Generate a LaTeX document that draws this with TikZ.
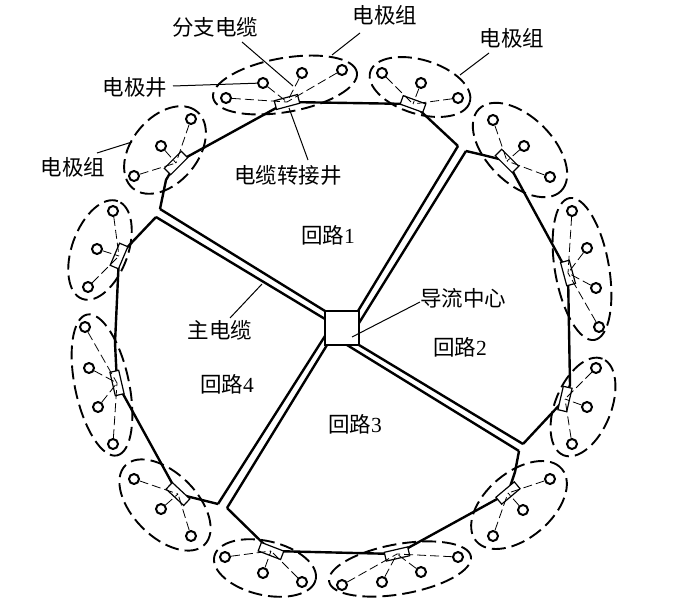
\documentclass[tikz,border=0pt]{standalone}
\usepackage{fontspec}
\setmainfont{Liberation Serif}
\newfontfamily\cjk{Noto Sans CJK SC}
\usetikzlibrary{shapes.geometric}
\pgfdeclarelayer{cables}
\pgfsetlayers{cables,main}
\tikzset{
  cable/.style={line width=2.4pt,line join=miter},
  grp/.style={draw,ellipse,dash pattern=on 14pt off 6pt,line width=1.9pt,inner sep=0pt},
  well/.style={draw,circle,line width=2pt,minimum size=10pt,inner sep=0pt,fill=white},
  joint/.style={draw,rectangle,line width=1.2pt,minimum width=24pt,minimum height=9pt,inner sep=0pt,fill=white},
  branch/.style={dash pattern=on 9pt off 4pt,line width=.8pt},
  leader/.style={line width=1pt},
  lab/.style={font=\fontsize{21.5}{22}\selectfont\cjk,inner sep=0pt},
  hubbox/.style={draw,rectangle,line width=2.4pt,minimum size=34pt,inner sep=0pt,fill=white}
}
\newcommand{\dg}[1]{{\rmfamily #1}}
\begin{document}
\begin{tikzpicture}[x=1pt,y=-1pt]
\useasboundingbox (0,0) rectangle (682,607);
% electrode group outlines
\node[grp,minimum width=100pt,minimum height=66pt,rotate=50] (gA) at (165,150) {};
\node[grp,minimum width=146pt,minimum height=54pt,rotate=10] (gB) at (285,85) {};
\node[grp,minimum width=104pt,minimum height=54pt,rotate=-17] (gC) at (420,87) {};
\node[grp,minimum width=116pt,minimum height=66pt,rotate=-45] (gD) at (520,150) {};
\node[grp,minimum width=144pt,minimum height=54pt,rotate=-80] (gE) at (582,269) {};
\node[grp,minimum width=104pt,minimum height=56pt,rotate=68] (gF) at (583,407) {};
\node[grp,minimum width=112pt,minimum height=66pt,rotate=40] (gG) at (519,505) {};
\node[grp,minimum width=144pt,minimum height=50pt,rotate=10] (gH) at (400,569) {};
\node[grp,minimum width=104pt,minimum height=54pt,rotate=-13] (gI) at (265,568) {};
\node[grp,minimum width=112pt,minimum height=64pt,rotate=-45] (gJ) at (165,505) {};
\node[grp,minimum width=144pt,minimum height=54pt,rotate=-78] (gK) at (102,385) {};
\node[grp,minimum width=104pt,minimum height=56pt,rotate=70] (gL) at (100,250) {};
% cable corners
\node[hubbox] (hub) at (342,328) {};
\coordinate (c1a) at (160,209);
\coordinate (c1b) at (458,146);
\coordinate (c2a) at (466,151);
\coordinate (c2b) at (523,444);
\coordinate (c3a) at (519,451);
\coordinate (c3b) at (227,508);
\coordinate (c4a) at (218,504);
\coordinate (c4b) at (156,217);
\coordinate (k1) at (166,180);
\coordinate (k2) at (483,155);
\coordinate (k3) at (570,385);
\coordinate (k4) at (515,472);
\coordinate (k5) at (115,343);
\coordinate (hNEa) at (358,311);
\coordinate (hNEb) at (359,323);
\coordinate (hNWa) at (325,311);
\coordinate (hNWb) at (325,319);
\coordinate (hSWa) at (325,336);
\coordinate (hSWb) at (327,345);
\coordinate (hSEa) at (359,345);
\coordinate (hSEb) at (347,345);
% wells
\node[well] (a1) at (191,119) {}; \node[well] (a2) at (161,146) {}; \node[well] (a3) at (134,176) {};
\node[well] (b1) at (226,98) {}; \node[well] (b2) at (263,83) {}; \node[well] (b3) at (302,73) {}; \node[well] (b4) at (342,70) {};
\node[well] (c1) at (382,73) {}; \node[well] (c2) at (421,83) {}; \node[well] (c3) at (458,98) {};
\node[well] (d1) at (493,120) {}; \node[well] (d2) at (524,146) {}; \node[well] (d3) at (550,177) {};
\node[well] (e1) at (572,211) {}; \node[well] (e2) at (587,248) {}; \node[well] (e3) at (596,288) {}; \node[well] (e4) at (599,327) {};
\node[well] (f1) at (596,368) {}; \node[well] (f2) at (587,407) {}; \node[well] (f3) at (572,444) {};
\node[well] (g1) at (550,479) {}; \node[well] (g2) at (523,510) {}; \node[well] (g3) at (493,536) {};
\node[well] (h1) at (458,557) {}; \node[well] (h2) at (421,572) {}; \node[well] (h3) at (382,582) {}; \node[well] (h4) at (342,585) {};
\node[well] (i1) at (225,557) {}; \node[well] (i2) at (263,573) {}; \node[well] (i3) at (302,582) {};
\node[well] (j1) at (134,479) {}; \node[well] (j2) at (161,509) {}; \node[well] (j3) at (191,536) {};
\node[well] (k6) at (85,327) {}; \node[well] (k7) at (89,368) {}; \node[well] (k8) at (98,407) {}; \node[well] (k9) at (113,444) {};
\node[well] (l1) at (113,211) {}; \node[well] (l2) at (97,249) {}; \node[well] (l3) at (88,287) {};
% joints
\node[joint,rotate=45] (jA) at (176,163) {};
\node[joint,rotate=15] (jB) at (287,102) {};
\node[joint,rotate=-20] (jC) at (413,104) {};
\node[joint,rotate=-45] (jD) at (507,161) {};
\node[joint,rotate=-75] (jE) at (568,273) {};
\node[joint,rotate=77] (jF) at (565,399) {};
\node[joint,rotate=40] (jG) at (508,493) {};
\node[joint,rotate=13] (jH) at (397,554) {};
\node[joint,rotate=-21] (jI) at (271,551) {};
\node[joint,rotate=-43] (jJ) at (178,494) {};
\node[joint,rotate=-77] (jK) at (117,383) {};
\node[joint,rotate=67] (jL) at (119,256) {};
\begin{pgfonlayer}{cables}
\draw[cable] (hNEa) -- (c1b) (hNEb) -- (c2a);
\draw[cable] (hNWa) -- (c1a) (hNWb) -- (c4b);
\draw[cable] (hSWa) -- (c4a) (hSWb) -- (c3b);
\draw[cable] (hSEa) -- (c2b) (hSEb) -- (c3a);
\draw[cable] (c1a) -- (k1) -- (jA.center) -- (jB.center) -- (jC.center) -- (c1b);
\draw[cable] (c2a) -- (k2) -- (jD.center) -- (jE.center) -- (k3) -- (jF.center) -- (c2b);
\draw[cable] (c3a) -- (k4) -- (jG.center) -- (jH.center) -- (jI.center) -- (c3b);
\draw[cable] (c4a) -- (jJ.center) -- (jK.center) -- (k5) -- (jL.center) -- (c4b);
\end{pgfonlayer}
% branches
\draw[branch] (a1) -- (jA.center) (a2) -- (jA.center) (a3) -- (jA.center);
\draw[branch] (b1) -- (jB.center) (b2) -- (jB.center) (b3) -- (jB.center) (b4) -- (jB.center);
\draw[branch] (c1) -- (jC.center) (c2) -- (jC.center) (c3) -- (jC.center);
\draw[branch] (d1) -- (jD.center) (d2) -- (jD.center) (d3) -- (jD.center);
\draw[branch] (e1) -- (jE.center) (e2) -- (jE.center) (e3) -- (jE.center) (e4) -- (jE.center);
\draw[branch] (f1) -- (jF.center) (f2) -- (jF.center) (f3) -- (jF.center);
\draw[branch] (g1) -- (jG.center) (g2) -- (jG.center) (g3) -- (jG.center);
\draw[branch] (h1) -- (jH.center) (h2) -- (jH.center) (h3) -- (jH.center) (h4) -- (jH.center);
\draw[branch] (i1) -- (jI.center) (i2) -- (jI.center) (i3) -- (jI.center);
\draw[branch] (j1) -- (jJ.center) (j2) -- (jJ.center) (j3) -- (jJ.center);
\draw[branch] (k6) -- (jK.center) (k7) -- (jK.center) (k8) -- (jK.center) (k9) -- (jK.center);
\draw[branch] (l1) -- (jL.center) (l2) -- (jL.center) (l3) -- (jL.center);
% labels
\node[lab] (t1) at (215,27) {分支电缆};
\node[lab] (t2) at (385,15) {电极组};
\node[lab] (t3) at (512,38) {电极组};
\node[lab] (t4) at (135,87) {电极井};
\node[lab] (t5) at (288,175) {电缆转接井};
\node[lab] (t6) at (73,167) {电极组};
\node[lab] (t7) at (220,330) {主电缆};
\node[lab] (t8) at (463,298) {导流中心};
\node[lab] (t9) at (328,235) {回路\dg{1}};
\node[lab] (t10) at (460,347) {回路\dg{2}};
\node[lab] (t11) at (355,424) {回路\dg{3}};
\node[lab] (t12) at (227,384) {回路\dg{4}};
% leaders
\coordinate (p1) at (293,86);
\coordinate (p1s) at (242,42);
\coordinate (p2) at (332,55);
\coordinate (p2s) at (360,33);
\coordinate (p3) at (460,75);
\coordinate (p3s) at (489,53);
\coordinate (p4s) at (173,86);
\coordinate (p5s) at (308,160);
\coordinate (p5) at (289,108);
\coordinate (p6s) at (97,153);
\coordinate (p6) at (132,142);
\coordinate (p7s) at (230,318);
\coordinate (p7) at (262,284);
\coordinate (p8s) at (420,302);
\coordinate (p8) at (352,337);
\draw[leader] (p1s) -- (p1);
\draw[leader] (p2s) -- (p2);
\draw[leader] (p3s) -- (p3);
\draw[leader] (p4s) -- (b2);
\draw[leader] (p5s) -- (p5);
\draw[leader] (p6s) -- (p6);
\draw[leader] (p7s) -- (p7);
\draw[leader] (p8s) -- (p8);
\end{tikzpicture}
\end{document}
